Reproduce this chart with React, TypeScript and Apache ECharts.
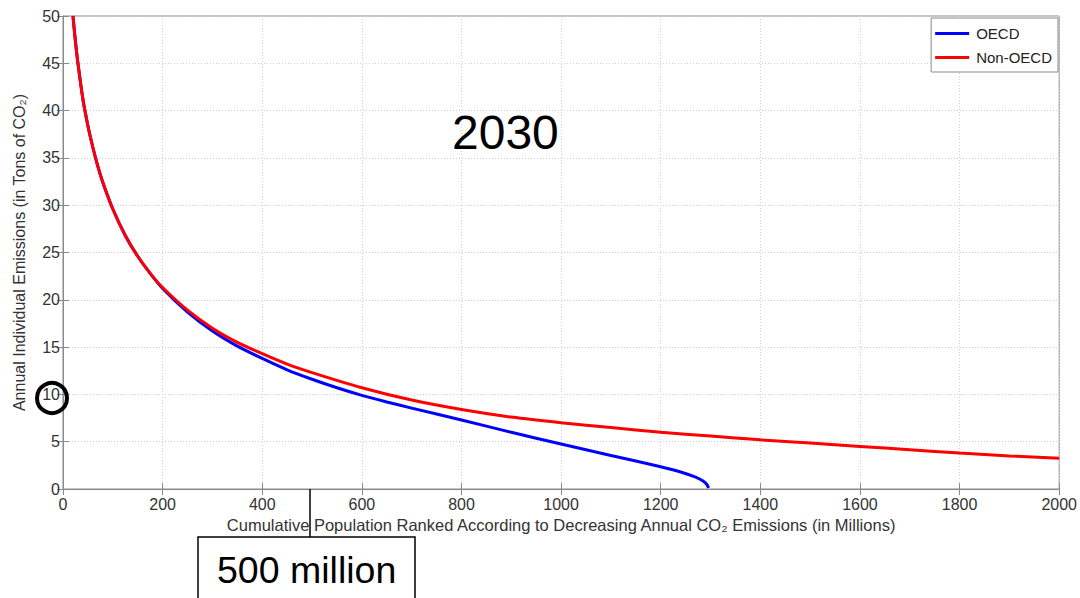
import React, { useEffect, useRef } from "react";
import * as echarts from "echarts";

const oecdX = [20, 25, 30, 40, 50, 60, 70, 80, 100, 125, 150, 175, 200, 250, 300, 350, 400, 450, 500, 550, 600, 650, 700, 800, 900, 1000, 1100, 1200, 1240, 1270, 1285, 1293, 1296];
const oecdY = [50, 47.3, 45, 41.2, 38.4, 36.1, 34.1, 32.4, 29.6, 26.8, 24.6, 22.8, 21.2, 18.7, 16.7, 15.1, 13.8, 12.6, 11.6, 10.7, 9.9, 9.2, 8.55, 7.3, 6.0, 4.75, 3.55, 2.35, 1.8, 1.25, 0.85, 0.45, 0.1];
const nonOecdX = [20, 25, 30, 40, 50, 60, 70, 80, 100, 125, 150, 175, 200, 250, 300, 350, 400, 450, 500, 600, 700, 800, 900, 1000, 1100, 1200, 1300, 1400, 1500, 1600, 1700, 1800, 1900, 2000];
const nonOecdY = [50, 47.3, 45, 41.2, 38.4, 36.1, 34.1, 32.4, 29.6, 26.8, 24.6, 22.8, 21.3, 18.9, 17.0, 15.5, 14.3, 13.2, 12.3, 10.7, 9.4, 8.4, 7.6, 7.0, 6.5, 6.0, 5.6, 5.2, 4.85, 4.5, 4.15, 3.8, 3.5, 3.25];
const legendNames = ["OECD", "Non-OECD"];
const xTitle = "Cumulative Population Ranked According to Decreasing Annual CO₂ Emissions (in Millions)";
const yTitle = "Annual Individual Emissions (in Tons of CO₂)";
const yearLabel = "2030";
const calloutLabel = "500 million";

export default function App() {
  const ref = useRef<HTMLDivElement>(null);
  useEffect(() => {
    const chart = echarts.init(ref.current!, null, { renderer: "svg" });
    const font = "'Liberation Sans', Arial, sans-serif";
    const gridLine = { show: true, lineStyle: { color: "#d0d0d0", type: [1, 2], width: 1 } };
    const tickStyle = { show: true, inside: true, length: 6, lineStyle: { color: "#8a8a8a" } };
    const fmt = (v: number) => String(v);
    chart.setOption({
      animation: false,
      backgroundColor: "#fff",
      textStyle: { fontFamily: font },
      grid: { left: 63, top: 16, width: 997, height: 473, show: true, borderColor: "#8a8a8a", borderWidth: 1 },
      legend: {
        data: legendNames,
        orient: "vertical",
        right: 22,
        top: 18,
        backgroundColor: "#fff",
        borderColor: "#8a8a8a",
        borderWidth: 1,
        padding: [8, 6, 7, 4],
        itemGap: 9,
        itemWidth: 34,
        itemHeight: 3,
        icon: "rect",
        textStyle: { fontSize: 15, color: "#222", fontFamily: font, padding: [0, 0, 0, 2] },
      },
      xAxis: [
        {
          type: "value", min: 0, max: 2000, interval: 200,
          name: xTitle, nameLocation: "middle", nameGap: 22,
          nameTextStyle: { fontSize: 16.5, color: "#333", fontFamily: font },
          axisLine: { show: true, lineStyle: { color: "#8a8a8a" } },
          axisTick: tickStyle,
          axisLabel: { fontSize: 16, color: "#333", margin: 7, fontFamily: font, formatter: fmt },
          splitLine: gridLine,
        },
        {
          type: "value", min: 0, max: 2000, interval: 200, position: "top",
          axisLine: { show: false },
          axisTick: tickStyle,
          axisLabel: { show: false }, splitLine: { show: false },
        },
      ],
      yAxis: [
        {
          type: "value", min: 0, max: 50, interval: 5,
          name: yTitle, nameLocation: "middle", nameGap: 36,
          nameTextStyle: { fontSize: 16, color: "#333", fontFamily: font },
          axisLine: { show: true, lineStyle: { color: "#8a8a8a" } },
          axisTick: tickStyle,
          axisLabel: { fontSize: 16, color: "#333", margin: 3, fontFamily: font, formatter: fmt },
          splitLine: gridLine,
        },
        {
          type: "value", min: 0, max: 50, interval: 5, position: "right",
          axisLine: { show: false },
          axisTick: tickStyle,
          axisLabel: { show: false }, splitLine: { show: false },
        },
      ],
      series: [
        {
          name: legendNames[0], type: "line", showSymbol: false, smooth: 0.25, clip: true,
          data: oecdX.map((x, i) => [x, oecdY[i]]),
          lineStyle: { color: "#0000ff", width: 3 }, itemStyle: { color: "#0000ff" },
          z: 2,
        },
        {
          name: legendNames[1], type: "line", showSymbol: false, smooth: 0.25, clip: true,
          data: nonOecdX.map((x, i) => [x, nonOecdY[i]]),
          lineStyle: { color: "#ff0000", width: 3 }, itemStyle: { color: "#ff0000" },
          z: 3,
        },
      ],
      graphic: [
        {
          type: "text", left: 452, top: 108,
          style: { text: yearLabel, fontSize: 48, fill: "#000", fontFamily: font },
          z: 10,
        },
        {
          type: "circle", shape: { cx: 52, cy: 398, r: 15 },
          style: { fill: "none", stroke: "#000", lineWidth: 4 }, z: 10,
        },
        {
          type: "line", shape: { x1: 310, y1: 489, x2: 310, y2: 538 },
          style: { stroke: "#000", lineWidth: 1.5 }, z: 10,
        },
        {
          type: "rect", shape: { x: 198, y: 537, width: 217, height: 70 },
          style: { fill: "#fff", stroke: "#000", lineWidth: 1.5 }, z: 10,
        },
        {
          type: "text", left: 217, top: 551,
          style: { text: calloutLabel, fontSize: 37.5, fill: "#000", fontFamily: font },
          z: 11,
        },
      ],
    });
    return () => chart.dispose();
  }, []);
  return <div ref={ref} style={{ width: 1080, height: 598, position: "absolute", left: 0, top: 0 }} />;
}
